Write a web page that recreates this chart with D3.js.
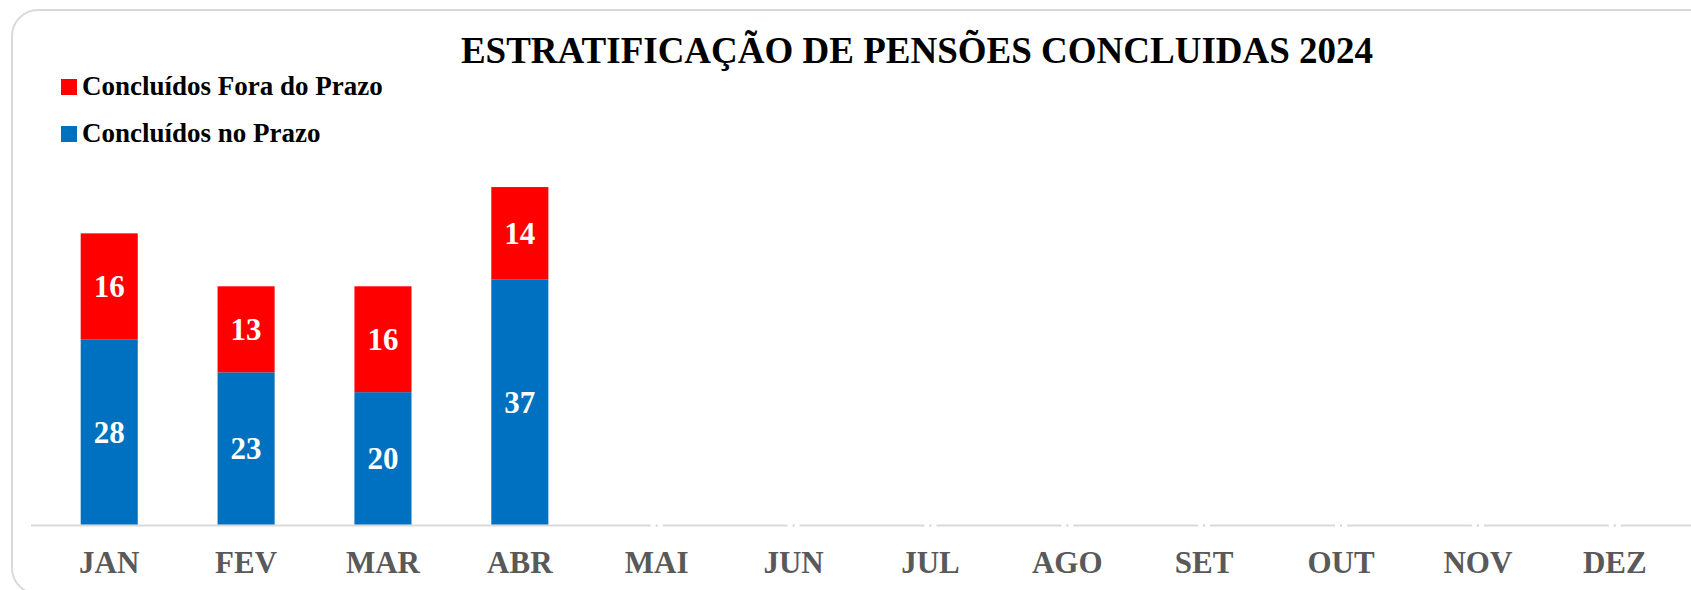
<!DOCTYPE html>
<html>
<head>
<meta charset="utf-8">
<script src="https://cdn.jsdelivr.net/npm/d3@7"></script>
<style>
  html, body { margin: 0; padding: 0; background: #fff; }
  svg { display: block; font-family: "Liberation Serif", "Times New Roman", serif; }
</style>
</head>
<body>
<svg class="chart" width="1691" height="590"></svg>
<script>
// months on the x axis
var months = ["JAN", "FEV", "MAR", "ABR", "MAI", "JUN", "JUL", "AGO", "SET", "OUT", "NOV", "DEZ"];
// series values (only first four months filled)
var noPrazo = [28, 23, 20, 37];
var foraPrazo = [16, 13, 16, 14];
var seriesNames = ["Concluídos no Prazo", "Concluídos Fora do Prazo"];
var seriesColors = ["#0070C0", "#FF0000"];

var svg = d3.select("svg.chart");

// card border
svg.append("rect")
    .attr("x", 12).attr("y", 10)
    .attr("width", 1720).attr("height", 584)
    .attr("rx", 26).attr("ry", 26)
    .style("fill", "#fff")
    .style("stroke", "#d9d9d9")
    .style("stroke-width", 2);

// scales
var x = d3.scaleBand().domain(months).range([41, 1683]).paddingInner(0.583).paddingOuter(0.29);
var y = d3.scaleLinear().domain([0, 60]).range([524.5, 127.5]);

// stack data
var table = noPrazo.map(function(v, i) {
  return { month: months[i], noPrazo: v, foraPrazo: foraPrazo[i] };
});
var stack = d3.stack().keys(["noPrazo", "foraPrazo"])(table);

// axis line
var base = y(0);
svg.append("line")
    .attr("x1", 31).attr("x2", 1691)
    .attr("y1", base + 1).attr("y2", base + 1)
    .style("stroke", "#d9d9d9")
    .style("stroke-width", 2);

// small gaps with a dot for the empty months
var empty = months.slice(noPrazo.length);
svg.selectAll("rect.gap")
    .data(empty)
  .enter().append("rect")
    .attr("class", "gap")
    .attr("x", function(d) { return x(d) + x.bandwidth() / 2 - 6; })
    .attr("y", base - 1)
    .attr("width", 12).attr("height", 4)
    .style("fill", "#fff");
svg.selectAll("rect.dot")
    .data(empty)
  .enter().append("rect")
    .attr("class", "dot")
    .attr("x", function(d) { return x(d) + x.bandwidth() / 2 - 1; })
    .attr("y", base)
    .attr("width", 2).attr("height", 2)
    .style("fill", "#d0d0d0");

// bars
var layers = svg.selectAll("g.layer")
    .data(stack)
  .enter().append("g")
    .attr("class", "layer")
    .style("fill", function(d, i) { return seriesColors[i]; });

layers.selectAll("rect")
    .data(function(d) { return d; })
  .enter().append("rect")
    .attr("x", function(d) { return x(d.data.month); })
    .attr("y", function(d) { return y(d[1]); })
    .attr("width", x.bandwidth())
    .attr("height", function(d) { return y(d[0]) - y(d[1]); });

// value labels
layers.selectAll("text")
    .data(function(d) { return d; })
  .enter().append("text")
    .attr("x", function(d) { return x(d.data.month) + x.bandwidth() / 2; })
    .attr("y", function(d) { return (y(d[0]) + y(d[1])) / 2; })
    .attr("text-anchor", "middle")
    .attr("dy", "0.35em")
    .style("fill", "#fff")
    .style("font-weight", "bold")
    .style("font-size", "31px")
    .text(function(d) { return d[1] - d[0]; });

// month labels
svg.selectAll("text.month")
    .data(months)
  .enter().append("text")
    .attr("class", "month")
    .attr("x", function(d) { return x(d) + x.bandwidth() / 2; })
    .attr("y", 573)
    .attr("text-anchor", "middle")
    .style("fill", "#595959")
    .style("font-weight", "bold")
    .style("font-size", "31px")
    .text(function(d) { return d; });

// title
svg.append("text")
    .attr("x", 917).attr("y", 63)
    .attr("text-anchor", "middle")
    .style("font-weight", "bold")
    .style("font-size", "37px")
    .style("fill", "#000")
    .text("ESTRATIFICAÇÃO DE PENSÕES CONCLUIDAS 2024");

// legend (Fora do Prazo on top)
var legendOrder = [1, 0];
var leg = svg.selectAll("g.legend")
    .data(legendOrder)
  .enter().append("g")
    .attr("class", "legend")
    .attr("transform", function(d, i) { return "translate(61," + (79 + i * 47) + ")"; });
leg.append("rect")
    .attr("width", 16).attr("height", 16)
    .style("fill", function(d) { return seriesColors[d]; });
leg.append("text")
    .attr("x", 21).attr("y", 15.5)
    .style("font-weight", "bold")
    .style("font-size", "27px")
    .style("fill", "#000")
    .text(function(d) { return seriesNames[d]; });
</script>
</body>
</html>
